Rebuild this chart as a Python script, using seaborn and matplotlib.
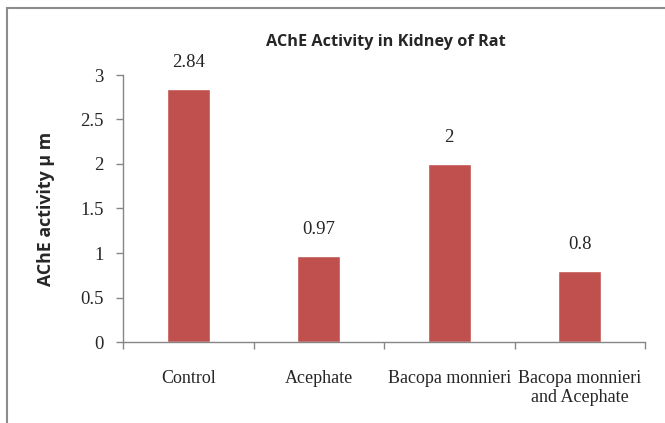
import numpy as np
import pandas as pd
import matplotlib
matplotlib.use("Agg")
import matplotlib.pyplot as plt
import matplotlib.patches as patches
import seaborn as sns

groups = ["Control", "Acephate", "Bacopa monnieri", "Bacopa monnieri\nand Acephate"]
activity = [2.84, 0.97, 2, 0.8]
value_labels = ["2.84", "0.97", "2", "0.8"]
y_ticks = [0, 0.5, 1, 1.5, 2, 2.5, 3]
y_tick_labels = ["0", "0.5", "1", "1.5", "2", "2.5", "3"]

sns.set_style("white")
axis_grey = "#868686"

df = pd.DataFrame({"group": groups, "activity": activity})

fig = plt.figure(figsize=(6.65, 4.23), dpi=100)
ax = fig.add_axes([123/665, 81/423, 522/665, 267/423])

sns.barplot(data=df, x="group", y="activity", color="#C0504D", saturation=1,
            width=0.33, ax=ax)

ax.set_ylim(0, 3)
ax.set_xlim(-0.5, len(groups) - 0.5)

# y axis
ax.set_yticks(y_ticks)
ax.set_yticklabels(y_tick_labels, family="Liberation Serif", fontsize=13.5)
ax.tick_params(axis="y", which="major", direction="out", length=5, width=1,
               color=axis_grey, pad=9, left=True)

# x axis: tick marks at category boundaries, labels at centres
ax.set_xticks(np.arange(len(groups) + 1) - 0.5)
ax.set_xticklabels([])
ax.tick_params(axis="x", which="major", direction="out", length=5, width=1,
               color=axis_grey, bottom=True)
ax.set_xticks(np.arange(len(groups)), minor=True)
ax.set_xticklabels(groups, minor=True, family="Liberation Serif", fontsize=13,
                   linespacing=1.15)
ax.tick_params(axis="x", which="minor", length=0, pad=20)

for name in ["top", "right"]:
    ax.spines[name].set_visible(False)
for name in ["left", "bottom"]:
    ax.spines[name].set_color(axis_grey)
    ax.spines[name].set_linewidth(1)

ax.set_xlabel("")
ax.set_ylabel("AChE activity µ m", family="Open Sans", fontweight="bold",
              fontsize=12.8, labelpad=18)

for i, (v, lab) in enumerate(zip(activity, value_labels)):
    ax.annotate(lab, (i, v), xytext=(0, 19), textcoords="offset points",
                ha="center", va="center", family="Liberation Serif", fontsize=13.5)

fig.text(386/665, 1 - 42/423, "AChE Activity in Kidney of Rat", ha="center",
         va="center", family="Open Sans", fontweight="bold", fontsize=11.7)

# chart area border
fig.patches.append(patches.Rectangle((7/665, -0.05), 1.0, 1 - 8/423 + 0.05,
                                     transform=fig.transFigure, fill=False,
                                     edgecolor="#8c8c8c", linewidth=1.5))

fig.savefig("out.png", dpi=100)
